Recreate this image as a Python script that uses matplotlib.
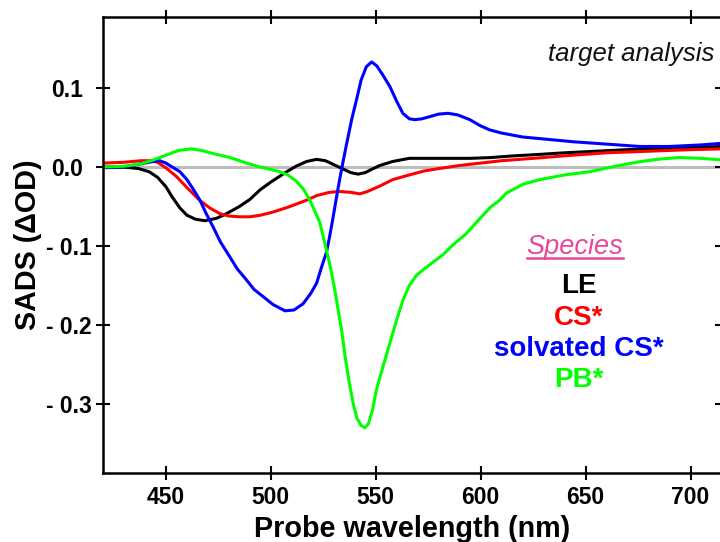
import matplotlib
matplotlib.use('Agg')
import matplotlib.pyplot as plt
from matplotlib.lines import Line2D
from matplotlib.transforms import blended_transform_factory

plt.rcParams['font.family'] = ['Liberation Sans', 'DejaVu Sans']

# species associated difference spectra
le_wl = [420, 430, 437, 442, 446, 450, 453, 456.7, 460, 464, 468.6, 474, 478.9, 485, 490,
         494.8, 500, 507.5, 512, 517, 521.8, 526, 530, 534, 538, 541.6, 545, 548, 552, 558,
         566, 575, 585, 595, 605, 615, 628, 640, 655, 670, 691, 705, 715]
le_val = [0.000, 0.000, -0.002, -0.006, -0.013, -0.025, -0.038, -0.052, -0.061, -0.066, -0.068,
          -0.065, -0.059, -0.050, -0.041, -0.029, -0.019, -0.006, 0.001, 0.007, 0.0097, 0.008,
          0.003, -0.002, -0.007, -0.009, -0.007, -0.003, 0.002, 0.007, 0.011, 0.011, 0.011,
          0.011, 0.012, 0.014, 0.016, 0.018, 0.020, 0.022, 0.024, 0.025, 0.026]

cs_wl = [420, 430, 438, 443, 446, 450, 455, 460, 466, 471, 475.7, 480, 485, 490, 495, 501,
         508, 517, 522, 528, 533, 538, 542.4, 546, 552, 558, 566, 573, 580, 590, 600, 610,
         625, 644, 660, 680, 700, 715]
cs_val = [0.005, 0.006, 0.008, 0.008, 0.006, -0.001, -0.012, -0.026, -0.042, -0.052, -0.059,
          -0.062, -0.063, -0.063, -0.061, -0.057, -0.051, -0.042, -0.036, -0.032, -0.031, -0.032,
          -0.034, -0.031, -0.024, -0.016, -0.010, -0.005, -0.002, 0.002, 0.005, 0.008, 0.011,
          0.015, 0.018, 0.020, 0.022, 0.023]

scs_wl = [420, 430, 438, 444, 447, 450, 453, 456.7, 460, 463, 466.2, 469, 472.5, 476, 480.5,
          484, 488.4, 492, 496.3, 501, 506.7, 511, 515.4, 519, 521.8, 524, 526.5, 528, 529.7,
          531.3, 532.9, 534.5, 536, 538.5, 540.8, 543, 545.5, 548, 550.5, 553, 556.7, 560,
          562.9, 566, 568.6, 572, 576, 580, 584.4, 589, 594.8, 600, 604.3, 610, 620, 632, 644,
          660, 676, 690, 705, 715]
scs_val = [-0.001, 0.000, 0.004, 0.007, 0.008, 0.005, 0.000, -0.006, -0.016, -0.028, -0.042,
           -0.058, -0.076, -0.095, -0.114, -0.129, -0.143, -0.155, -0.164, -0.174, -0.182,
           -0.181, -0.173, -0.160, -0.147, -0.128, -0.108, -0.088, -0.063, -0.038, -0.014,
           0.008, 0.028, 0.060, 0.085, 0.110, 0.127, 0.133, 0.128, 0.118, 0.102, 0.083, 0.068,
           0.061, 0.060, 0.061, 0.064, 0.067, 0.068, 0.066, 0.060, 0.052, 0.047, 0.043, 0.038,
           0.035, 0.032, 0.029, 0.026, 0.026, 0.028, 0.030]

pb_wl = [420, 430, 438, 444, 450, 456, 462, 467, 472.5, 480.5, 488.4, 494.8, 500, 504.3, 508,
         512.2, 515.5, 518.6, 521, 523.3, 525.3, 527.3, 529, 530.5, 532, 533.7, 535.5, 537.3,
         539.2, 541, 543, 544.8, 546.5, 548.5, 550.3, 553.5, 556.7, 560, 563, 566, 569.4, 574,
         578, 582, 587, 593.2, 600, 605, 609, 612.2, 620, 628, 640, 651.9, 664, 675.7, 685,
         694.8, 705, 715]
pb_val = [0.000, 0.001, 0.004, 0.009, 0.015, 0.021, 0.023, 0.021, 0.017, 0.012, 0.005, 0.000,
          -0.003, -0.006, -0.010, -0.018, -0.028, -0.042, -0.056, -0.070, -0.092, -0.114, -0.135,
          -0.156, -0.180, -0.206, -0.242, -0.272, -0.299, -0.318, -0.327, -0.330, -0.325, -0.307,
          -0.282, -0.252, -0.223, -0.193, -0.168, -0.150, -0.137, -0.127, -0.119, -0.111, -0.098,
          -0.084, -0.064, -0.050, -0.042, -0.033, -0.022, -0.016, -0.010, -0.006, 0.001, 0.0067,
          0.010, 0.012, 0.011, 0.009]

species = ['LE', 'CS*', 'solvated CS*', 'PB*']
colors = ['#000000', '#ff0000', '#0000ff', '#00ff00']
yticks = [0.1, 0.0, -0.1, -0.2, -0.3]
ylabels = ['0.1', '0.0', '- 0.1', '- 0.2', '- 0.3']
xticks = [450, 500, 550, 600, 650, 700]

fig = plt.figure(figsize=(7.2, 5.42), dpi=100)
ax = fig.add_axes([103 / 720, 69 / 542, 619 / 720, 456 / 542])

ax.axhline(0, color='#bdbdbd', lw=2.2, zorder=1)
series = [(le_wl, le_val), (cs_wl, cs_val), (scs_wl, scs_val), (pb_wl, pb_val)]
for (wl, val), c in zip(series, colors):
    ax.plot(wl, val, color=c, lw=2.2, zorder=2)

ax.set_xlim(420, 715)
ax.set_ylim(-0.3873, 0.1899)
ax.set_xticks(xticks)
ax.set_yticks(yticks)
ax.set_yticklabels([])
for s in ax.spines.values():
    s.set_linewidth(1.8)
ax.tick_params(direction='inout', length=10, width=1.5, top=True, right=True,
               labelsize=16.5)
ax.tick_params(axis='x', pad=4)
for lab in ax.get_xticklabels():
    lab.set_fontweight('bold')

# y labels drawn by hand: negative ones sit closer to the axis in the original
ytrans = blended_transform_factory(ax.transAxes, ax.transData)
for v, t in zip(yticks, ylabels):
    xpos = -0.0178 if t.startswith('-') else -0.0323
    ax.text(xpos, v, t, transform=ytrans, ha='right', va='center_baseline',
            fontsize=16.5, fontweight='bold', clip_on=False)

ax.set_xlabel('Probe wavelength (nm)', fontsize=20.7, fontweight='bold', labelpad=5)
ax.set_ylabel('SADS (ΔOD)', fontsize=20.7, fontweight='bold')
ax.yaxis.set_label_coords(-0.0985, 0.5)

ax.text(0.988, 0.918, 'target analysis', transform=ax.transAxes, ha='right', va='center',
        fontsize=18.5, style='italic', color='#111111')

# legend block
sp = ax.text(0.7625, 0.495, 'Species', transform=ax.transAxes, ha='center', va='center',
             fontsize=19.5, style='italic', color='#e8489a')
ys = [0.411, 0.340, 0.272, 0.203]
for name, c, y in zip(species, colors, ys):
    ax.text(0.768, y, name, transform=ax.transAxes, ha='center', va='center',
            fontsize=20, fontweight='bold', color=c)

fig.canvas.draw()
bb = sp.get_window_extent()
fig.add_artist(Line2D([bb.x0 / 720, bb.x1 / 720], [(bb.y0 + 2) / 542, (bb.y0 + 2) / 542],
                      transform=fig.transFigure, color='#e8489a', lw=1.8))

fig.savefig('out.png', dpi=100)
